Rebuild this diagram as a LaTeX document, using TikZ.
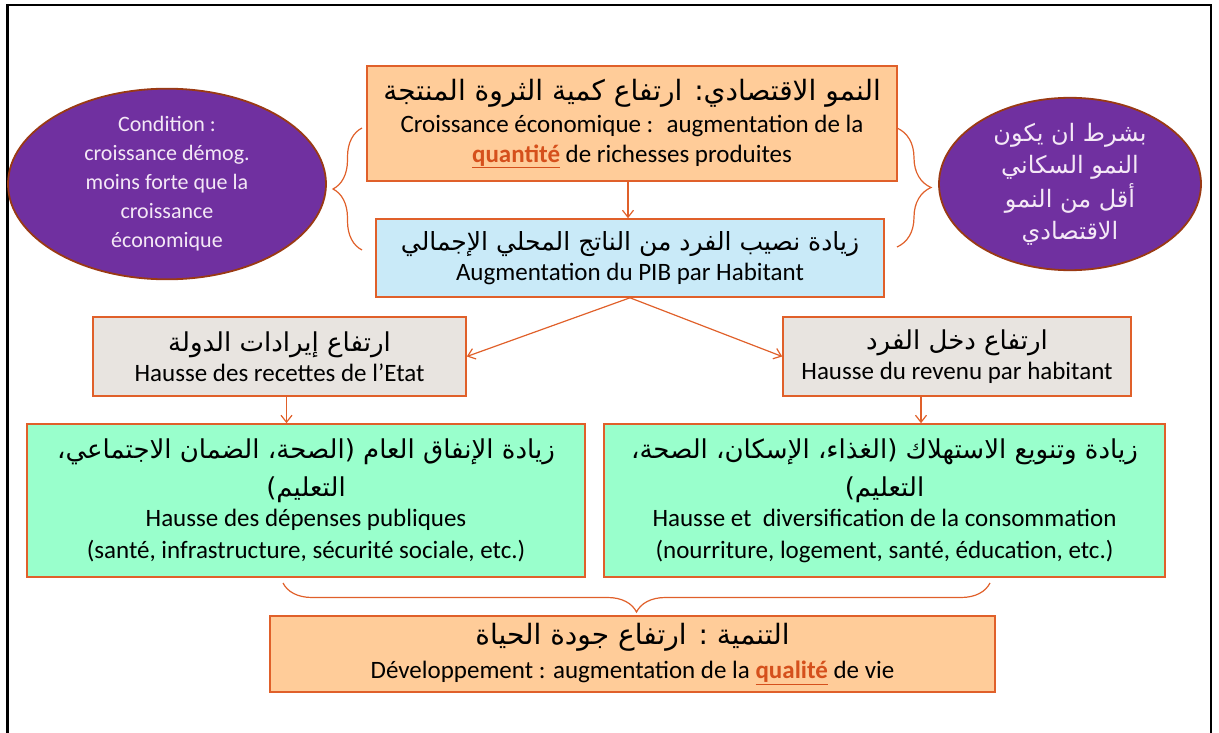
\documentclass[tikz,border=0pt]{standalone}
\usepackage{fontspec}
\setmainfont{Carlito}
\newfontfamily\arabicfont[Script=Arabic]{DejaVu Sans}
\TeXXeTstate=1
\usetikzlibrary{arrows.meta,shapes.geometric,decorations.pathreplacing,calc}
\definecolor{lineor}{HTML}{E0602A}
\definecolor{fillor}{HTML}{FFCC99}
\definecolor{fillbl}{HTML}{C9EAF8}
\definecolor{fillgr}{HTML}{E8E4E0}
\definecolor{fillgn}{HTML}{99FFCC}
\definecolor{purp}{HTML}{7030A0}
\definecolor{purpline}{HTML}{9A3A14}
\definecolor{purptxt}{HTML}{F4E8F6}
\definecolor{accent}{HTML}{D5501C}
\newcommand\ar[2][26]{{\arabicfont\fontsize{#1}{#1}\selectfont\beginR #2\endR}}
\newcommand\hl[1]{\textcolor{accent}{\underline{\textbf{#1}}}}
\tikzset{box/.style={draw=lineor,line width=1.6pt,align=center,inner sep=0pt,font=\fontsize{25}{30}\selectfont}}
\tikzset{bulle/.style={ellipse,draw=purpline,fill=purp,line width=1.8pt,text=purptxt,align=center,inner sep=0pt,font=\fontsize{22}{29}\selectfont}}
\tikzset{fl/.style={draw=lineor,line width=1.2pt,-{Straight Barb[length=7pt,width=11pt]}}}
\tikzset{acc/.style={draw=lineor,line width=1.2pt,decorate,decoration={brace,amplitude=#1}},acc/.default=30}

\begin{document}
\begin{tikzpicture}[x=1pt,y=-1pt]
  \useasboundingbox (0,0) rectangle (1219,733);
  \draw[line width=2.6pt] (7.5,733) -- (7.5,5) -- (1211,5) -- (1211,733);
  % boites
  \node (crois) at (632,123.5) [box,fill=fillor,minimum width=530,minimum height=115]
    {\ar[28]{النمو الاقتصادي: ارتفاع كمية الثروة المنتجة}\\[2pt]
     Croissance économique :~ augmentation de la\\
     \hl{quantité} de richesses produites};
  \node (pib) at (630,258) [box,fill=fillbl,minimum width=508,minimum height=78]
    {\ar[25]{زيادة نصيب الفرد من الناتج المحلي الإجمالي}\\
     Augmentation du PIB par Habitant};
  \node (etat) at (279.5,356.5) [box,fill=fillgr,minimum width=373,minimum height=79]
    {\ar{ارتفاع إيرادات الدولة}\\
     Hausse des recettes de l’Etat};
  \node (revenu) at (957,356.5) [box,fill=fillgr,minimum width=348,minimum height=79]
    {\ar{ارتفاع دخل الفرد}\\
     Hausse du revenu par habitant};
  \node (depense) at (306,500.5) [box,fill=fillgn,minimum width=558,minimum height=153]
    {\ar{زيادة الإنفاق العام (الصحة، الضمان الاجتماعي،}\\[8pt]
     \ar{التعليم)}\\
     Hausse des dépenses publiques\\[2pt]
     (santé, infrastructure, sécurité sociale, etc.)};
  \node (conso) at (884.5,500.5) [box,fill=fillgn,minimum width=561,minimum height=153]
    {\ar{زيادة وتنويع الاستهلاك (الغذاء، الإسكان، الصحة،}\\[8pt]
     \ar{التعليم)}\\
     Hausse et~ diversification de la consommation\\[2pt]
     (nourriture, logement, santé, éducation, etc.)};
  \node (dev) at (632.5,654) [box,fill=fillor,minimum width=725,minimum height=76]
    {\ar[28]{التنمية : ارتفاع جودة الحياة}\\[4pt]
     Développement : augmentation de la \hl{qualité} de vie};
  % conditions
  \node (condfr) at (167,184) [bulle,minimum width=318,minimum height=162]
    {Condition :\\croissance démog.\\moins forte que la\\croissance\\économique};
  \node (condar) at (1070,184) [bulle,minimum width=262,minimum height=162]
    {\ar[24]{بشرط ان يكون}\\[3pt]\ar[24]{النمو السكاني}\\[3pt]\ar[24]{أقل من النمو}\\[3pt]\ar[24]{الاقتصادي}};
  % fleches
  \draw[fl] ([xshift=-4]crois.south) -- ([xshift=-4]crois.south |- pib.north);
  \draw[fl] (pib.south) -- (etat.east);
  \draw[fl] (pib.south) -- (revenu.west);
  \draw[fl] ([xshift=7]etat.south) -- ([xshift=7]etat.south |- depense.north);
  \draw[fl] ([xshift=-36]revenu.south) -- ([xshift=-36]revenu.south |- conso.north);
  % accolades
  \draw[acc=29] (362,250) -- (362,128);
  \draw[acc=34] (897,128) -- (897,247);
  \draw[acc=29] (990,583) -- (283,583);
\end{tikzpicture}
\end{document}
